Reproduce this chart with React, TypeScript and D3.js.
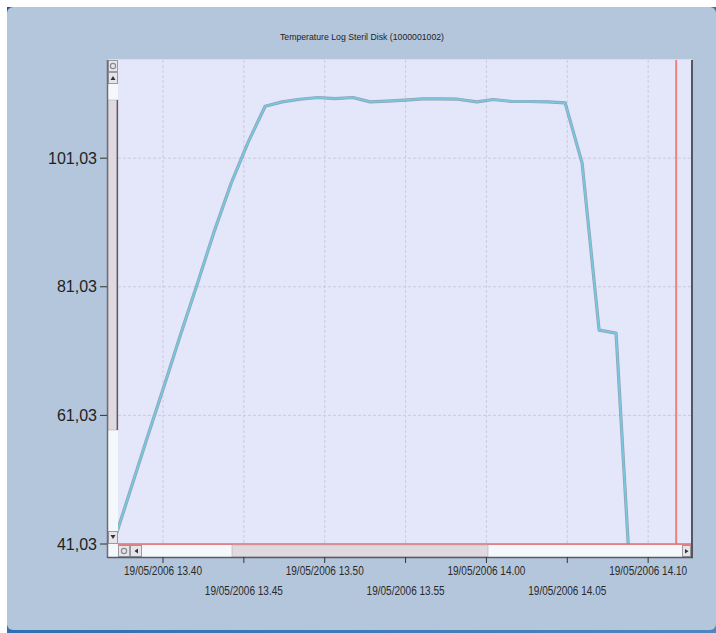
import React from "react";
import * as d3 from "d3";

const DAY = "19/05/2006";
const TIMES = [
  "13:36:55", "13:37:58", "13:39:01", "13:40:04", "13:41:07", "13:42:08", "13:43:09", "13:44:13",
  "13:45:16", "13:46:19", "13:47:22", "13:48:28", "13:49:35", "13:50:38", "13:51:45", "13:52:48",
  "13:53:51", "13:54:58", "13:56:05", "13:57:08", "13:58:14", "13:59:25", "14:00:25", "14:01:35",
  "14:02:42", "14:03:49", "14:04:52", "14:05:55", "14:06:58", "14:08:01", "14:08:46",
];
const VALUES = [
  41.03, 49.27, 57.51, 65.59, 73.83, 81.6, 89.53, 97.15,
  103.52, 109.11, 109.79, 110.2, 110.47, 110.29, 110.47, 109.79,
  109.9, 110.06, 110.26, 110.26, 110.2, 109.79, 110.16, 109.85,
  109.85, 109.79, 109.63, 100.26, 74.3, 73.83, 41.03,
];
const Y_TICKS = [41.03, 61.03, 81.03, 101.03];
const Y_DOMAIN = [41.03, 116.3];
const X_DOMAIN = ["13:37:13", "14:12:39"];
const MARKER_TIME = "14:11:44";
const TITLE = "Temperature Log Steril Disk (1000001002)";

const parse = d3.timeParse("%d/%m/%Y %H:%M:%S");
const toDate = (t: string) => parse(`${DAY} ${t}`) as Date;

const W = 716;
const H = 633;
const L = 118, R = 691, T = 60, B = 544;

export default function App() {
  const x = d3.scaleTime().domain(X_DOMAIN.map(toDate)).range([L, R]);
  const y = d3.scaleLinear().domain(Y_DOMAIN).range([B, T]);
  const data = TIMES.map((t, i) => ({ t: toDate(t), v: VALUES[i] }));
  const line = d3
    .line<{ t: Date; v: number }>()
    .x((d) => x(d.t))
    .y((d) => y(d.v));
  const path = line(data) || "";
  const xTicks = x.ticks(d3.timeMinute.every(5) as d3.TimeInterval);
  const fmt = d3.timeFormat("%d/%m/%Y %H.%M");
  const yFmt = (v: number) => v.toFixed(2).replace(".", ",");
  const mx = x(toDate(MARKER_TIME));

  const btn = (bx: number, by: number, w: number, h: number, glyph: string, key: string) => (
    <g key={key}>
      <rect x={bx + 0.5} y={by + 0.5} width={w - 1} height={h - 1} fill="#e6e6ea" stroke="#9a9aa2" strokeWidth={1} />
      {glyph === "gear" ? (
        <circle cx={bx + w / 2} cy={by + h / 2} r={2.6} fill="none" stroke="#8a8a90" strokeWidth={1.2} />
      ) : (
        <path d={glyph} fill="#333" />
      )}
    </g>
  );

  const vx = 108, vw = 10;
  const hy = 545, hh = 12;

  return (
    <svg width={W} height={H} style={{ position: "absolute", left: 0, top: 0 }} fontFamily="'Liberation Sans', Arial, sans-serif">
      <defs>
        <clipPath id="plotClip">
          <rect x={L} y={T} width={R - L} height={B - T} />
        </clipPath>
        <linearGradient id="cornerTL" x1="0" y1="0" x2="1" y2="1">
          <stop offset="0" stopColor="#0d5aa6" />
          <stop offset="1" stopColor="#4f86c0" />
        </linearGradient>
      </defs>
      <rect x={0} y={0} width={W} height={H} fill="#ffffff" />
      <rect x={7} y={7} width={W - 7} height={H - 7} fill="url(#cornerTL)" />
      <rect x={7} y={7} width={W - 7} height={H - 10} rx={6} ry={6} fill="#b4c6dc" />
      <text x={362} y={40} fontSize={9} textAnchor="middle" fill="#222" textLength={164} lengthAdjust="spacingAndGlyphs">
        {TITLE}
      </text>

      {/* plot area */}
      <rect x={L} y={T} width={R - L} height={B - T} fill="#e4e6f9" />
      {xTicks.map((t, i) => (
        <line key={`gx${i}`} x1={x(t)} x2={x(t)} y1={T} y2={B} stroke="#c9ccdc" strokeWidth={1} strokeDasharray="3,2" />
      ))}
      {Y_TICKS.slice(1).map((v, i) => (
        <line key={`gy${i}`} x1={L} x2={R} y1={y(v)} y2={y(v)} stroke="#c9ccdc" strokeWidth={1} strokeDasharray="3,2" />
      ))}
      <g clipPath="url(#plotClip)">
        <path d={path} fill="none" stroke="#6f8591" strokeOpacity={0.7} strokeWidth={3.2} strokeLinejoin="round" />
        <path d={path} fill="none" stroke="#76c8e0" strokeWidth={1.8} strokeLinejoin="round" />
      </g>
      <line x1={mx} x2={mx} y1={T} y2={B} stroke="#f08080" strokeWidth={2} />
      <line x1={L} x2={R} y1={B} y2={B} stroke="#f06a6a" strokeWidth={1.5} />

      {/* vertical scrollbar */}
      <rect x={vx} y={T} width={vw} height={B - T + 13} fill="#f5f8fb" />
      <rect x={vx} y={100} width={vw} height={330} fill="#e0d9df" stroke="#b8b0b8" strokeWidth={0.6} />
      <line x1={117.3} x2={117.3} y1={100} y2={430} stroke="#5a5a60" strokeWidth={1.4} />
      {btn(vx, T, vw, 12, "gear", "vg")}
      {btn(vx, T + 12, vw, 12, `M${vx + 2.5},${T + 20} L${vx + 7.5},${T + 20} L${vx + 5},${T + 16} Z`, "vu")}
      {btn(vx, 531, vw, 13, `M${vx + 2.5},${535} L${vx + 7.5},${535} L${vx + 5},${539} Z`, "vd")}

      {/* horizontal scrollbar */}
      <rect x={L} y={hy} width={R - L} height={hh} fill="#f5f8fb" />
      <rect x={232} y={hy} width={256} height={hh} fill="#e0d9df" stroke="#b8b0b8" strokeWidth={0.6} />
      {btn(L, hy, 12, hh, "gear", "hg")}
      {btn(L + 12, hy, 12, hh, `M${L + 20},${hy + 3.5} L${L + 20},${hy + 8.5} L${L + 16.5},${hy + 6} Z`, "hl")}
      {btn(682, hy, 9, hh, `M${685},${hy + 4} L${685},${hy + 8.5} L${688.5},${hy + 6.2} Z`, "hr")}

      {/* frame */}
      <line x1={107.5} x2={107.5} y1={T} y2={558} stroke="#6c6c74" strokeWidth={1.5} />
      <line x1={107} x2={693} y1={557.5} y2={557.5} stroke="#5a5a62" strokeWidth={1.3} />
      <line x1={692} x2={692} y1={T} y2={558} stroke="#4a4a52" strokeWidth={1.8} />
      <line x1={108} x2={692} y1={T - 0.5} y2={T - 0.5} stroke="#d8dcee" strokeWidth={1} />

      {/* y axis */}
      {Y_TICKS.map((v, i) => (
        <g key={`yt${i}`}>
          <line x1={100} x2={107} y1={y(v)} y2={y(v)} stroke="#333" strokeWidth={1} />
          <text x={97} y={y(v) + 5.5} fontSize={16} textAnchor="end" fill="#222">
            {yFmt(v)}
          </text>
        </g>
      ))}

      {/* x axis */}
      {xTicks.map((t, i) => (
        <g key={`xt${i}`}>
          <line x1={x(t)} x2={x(t)} y1={557} y2={563} stroke="#333" strokeWidth={1} />
          <text
            x={x(t)}
            y={i % 2 === 0 ? 575 : 595}
            fontSize={12}
            textAnchor="middle"
            fill="#2a2a2a"
            textLength={78}
            lengthAdjust="spacingAndGlyphs"
          >
            {fmt(t)}
          </text>
        </g>
      ))}
    </svg>
  );
}
